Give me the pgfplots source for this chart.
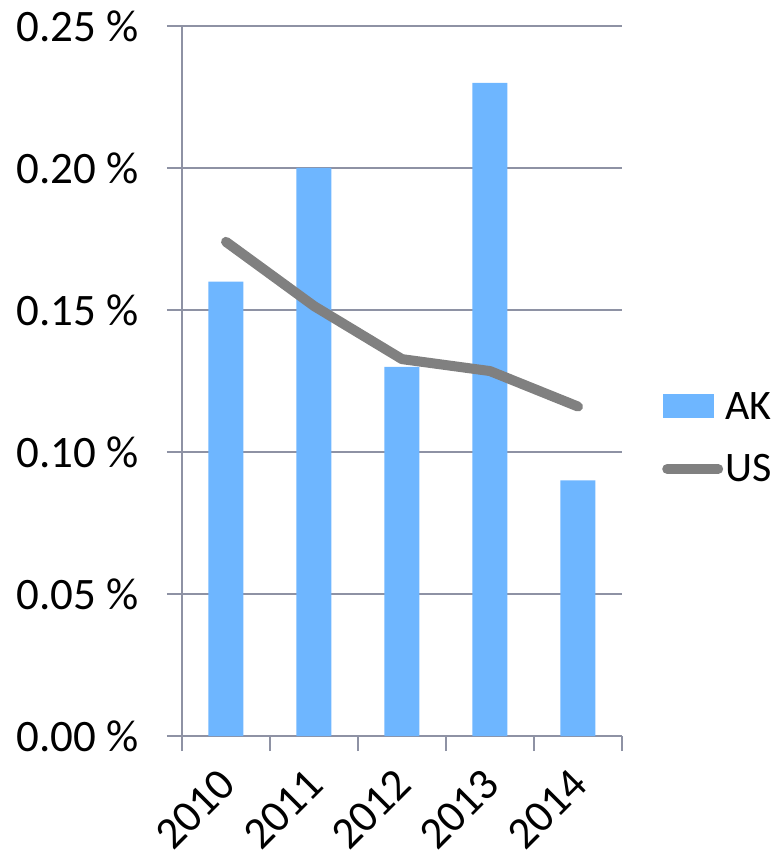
\documentclass[border=0pt]{standalone}
\usepackage{pgfplots}
\pgfplotsset{compat=1.18}
\usepackage{fontspec}
\setmainfont{Carlito}
\definecolor{barblue}{HTML}{6EB6FF}
\definecolor{usgray}{HTML}{808080}
\definecolor{axgray}{HTML}{8E92A4}
\begin{document}
\begin{tikzpicture}
\useasboundingbox (-182pt,-127pt) rectangle (590pt,736pt);
\begin{axis}[
  at={(0pt,0pt)}, anchor=south west,
  scale only axis, width=440pt, height=710pt,
  xmin=-0.5, xmax=4.5, ymin=0, ymax=0.25,
  axis x line=bottom, axis y line=left,
  every outer x axis line/.append style={-},
  every outer y axis line/.append style={-},
  axis line style={axgray, line width=1.5pt},
  tick align=outside,
  xtick={0,1,2,3,4},
  xticklabels={2010,2011,2012,2013,2014},
  minor xtick={-0.5,0.5,1.5,2.5,3.5,4.5},
  major x tick style={draw=none},
  minor x tick style={axgray, line width=1.5pt},
  minor tick length=15pt,
  major tick length=15pt,
  ytick={0,0.05,0.1,0.15,0.2,0.25},
  y tick style={axgray, line width=1.5pt},
  ymajorgrids,
  grid style={axgray, line width=1.5pt},
  yticklabel={\pgfmathprintnumber[fixed,fixed zerofill,precision=2]{\tick}~\%},
  /pgf/number format/assume math mode=true,
  yticklabel style={font=\fontsize{45}{48}\selectfont, inner sep=0pt, xshift=-28pt},
  xticklabel style={font=\fontsize{45}{48}\selectfont, inner sep=0pt, xshift=-9pt, yshift=-15pt, rotate=45, anchor=north east},
  legend style={at={(1,0.42)}, anchor=west, xshift=40pt, draw=none, fill=none,
    font=\fontsize{42}{46}\selectfont, row sep=30pt, inner sep=0pt},
  legend cell align=left,
]
\addplot[ybar, bar width=35pt, fill=barblue, draw=none,
  legend image code/.code={\fill[barblue] (0pt,-12pt) rectangle (51pt,12pt);}]
  coordinates {(0,0.16) (1,0.20) (2,0.13) (3,0.23) (4,0.09)};
\addlegendentry{AK}
\addplot[usgray, line width=10pt, line cap=round, line join=round, mark=none,
  legend image code/.code={\draw[usgray, line width=10pt, line cap=round] (4pt,0pt) -- (55pt,0pt);}]
  coordinates {(0,0.174) (1,0.1514) (2,0.1327) (3,0.1285) (4,0.116)};
\addlegendentry{US}
\end{axis}
\end{tikzpicture}
\end{document}
